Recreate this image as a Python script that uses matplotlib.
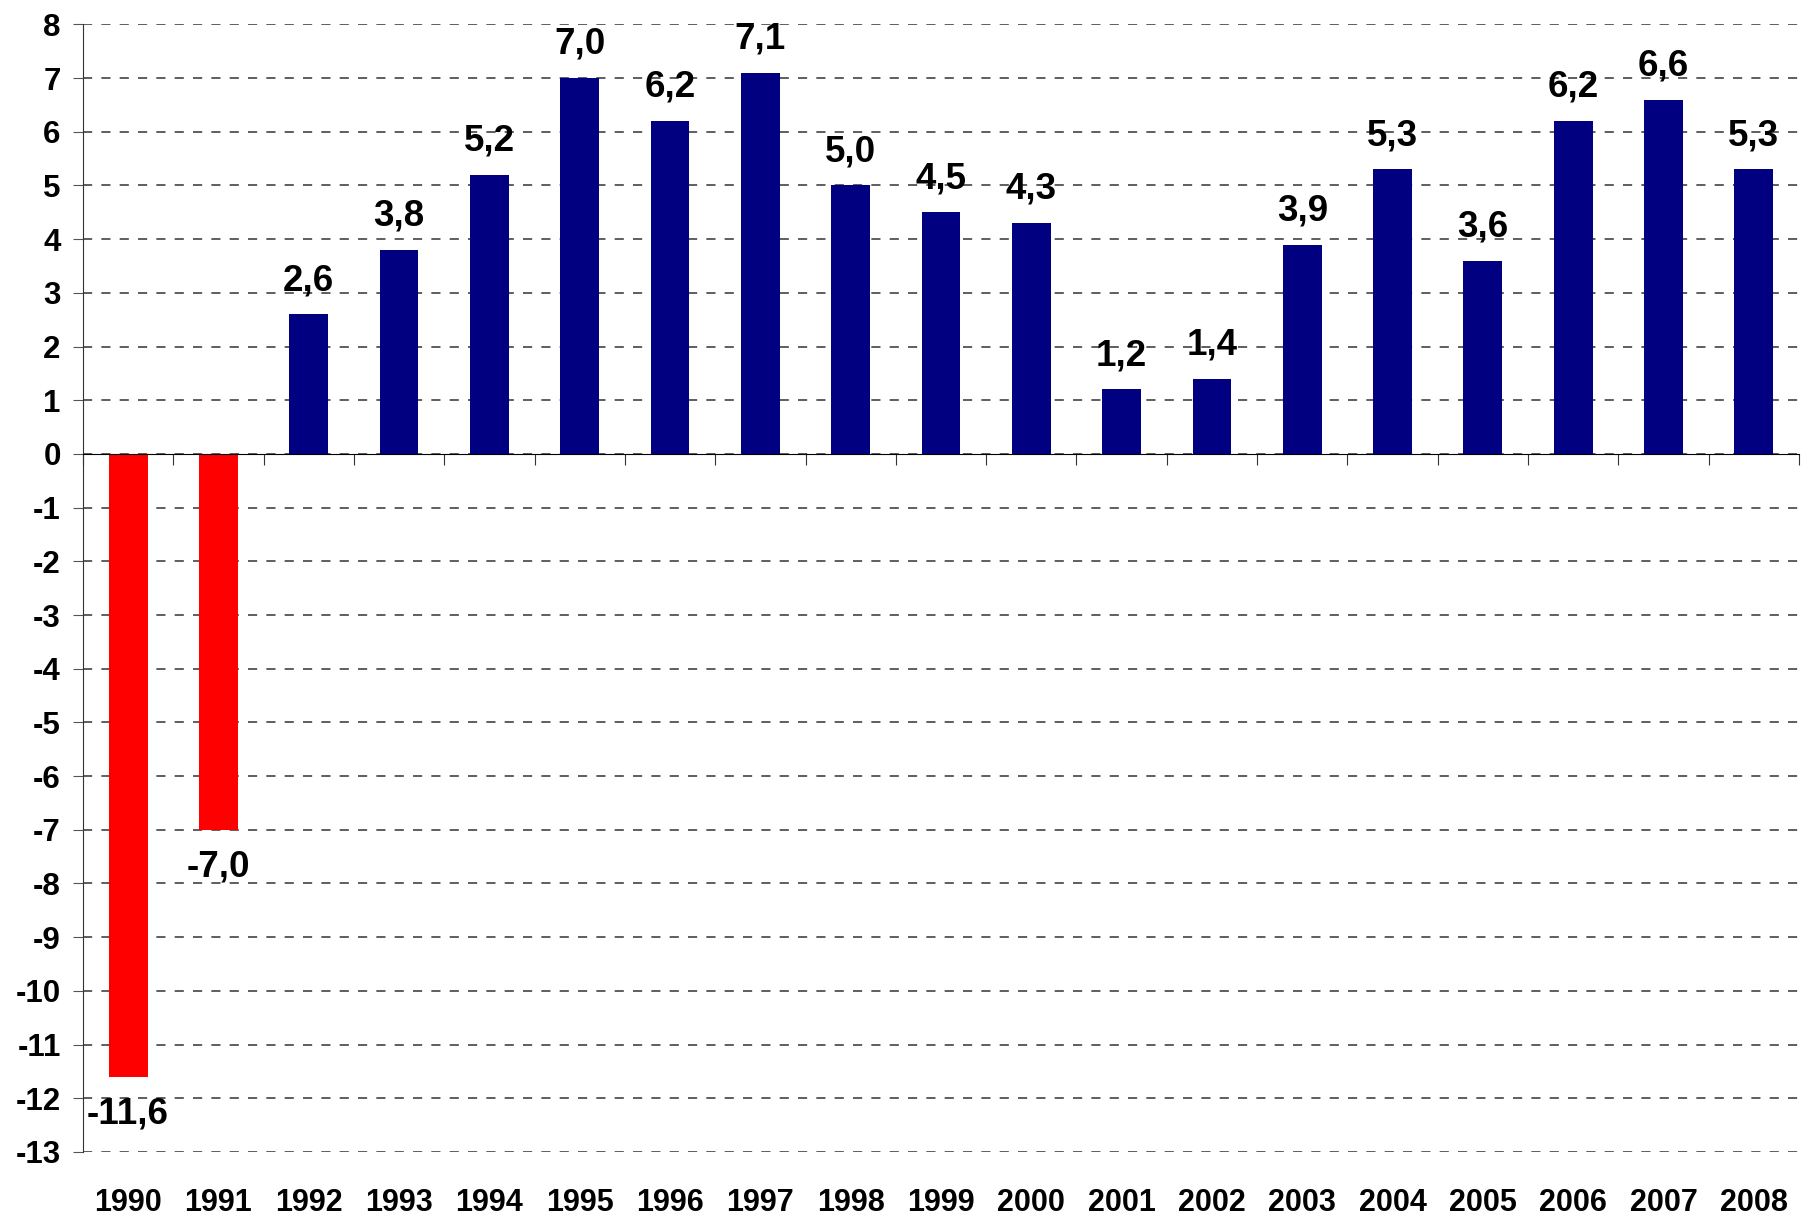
import numpy as np
import matplotlib.pyplot as plt
from matplotlib.transforms import blended_transform_factory

# Data
years = ['1990', '1991', '1992', '1993', '1994', '1995', '1996', '1997', '1998', '1999',
         '2000', '2001', '2002', '2003', '2004', '2005', '2006', '2007', '2008']
growth = [-11.6, -7.0, 2.6, 3.8, 5.2, 7.0, 6.2, 7.1, 5.0, 4.5,
          4.3, 1.2, 1.4, 3.9, 5.3, 3.6, 6.2, 6.6, 5.3]

plt.rcParams['font.family'] = ['Liberation Sans', 'DejaVu Sans']

fig = plt.figure(figsize=(18.03, 12.19), dpi=100)
ax = fig.add_axes([0.046, 0.055, 0.9518, 0.925])

x = np.arange(len(years))
colors = ['#FF0000' if v < 0 else '#000080' for v in growth]
ax.bar(x, growth, width=0.43, color=colors, zorder=3)

ax.set_xlim(-0.5, len(years) - 0.5)
ax.set_ylim(-13, 8)
ax.set_yticks(np.arange(-13, 9, 1))
ax.set_yticklabels([str(v) for v in range(-13, 9)], fontsize=22.5, fontweight='bold')
ax.grid(axis='y', color='#333333', linestyle=(0, (6, 6)), linewidth=1.1, zorder=0)

# Spines
for s in ['top', 'right']:
    ax.spines[s].set_visible(False)
ax.spines['left'].set_color('#333333')
ax.spines['bottom'].set_position(('data', 0))
ax.spines['bottom'].set_color('black')
ax.spines['bottom'].set_zorder(4)

# x ticks at category boundaries on the zero line
ax.set_xticks(np.arange(-0.5, len(years), 1))
ax.set_xticklabels([])
ax.tick_params(axis='x', direction='out', length=8, color='#333333')
ax.tick_params(axis='y', direction='out', length=7, color='#555555', pad=9)

# Year labels under the plot
trans = blended_transform_factory(ax.transData, ax.transAxes)
for i, yr in enumerate(years):
    ax.text(i, -0.045, yr, transform=trans, ha='center', va='center',
            fontsize=22, fontweight='bold')

# Value labels
for i, v in enumerate(growth):
    lbl = f'{v:.1f}'.replace('.', ',')
    if v >= 0:
        ax.annotate(lbl, (i, v), xytext=(0, 17.5), textcoords='offset points',
                    ha='center', va='baseline', fontsize=26.5, fontweight='bold')
    else:
        ax.annotate(lbl, (i, v), xytext=(0, -14), textcoords='offset points',
                    ha='center', va='top', fontsize=26.5, fontweight='bold')

fig.savefig('out.png', dpi=100)
